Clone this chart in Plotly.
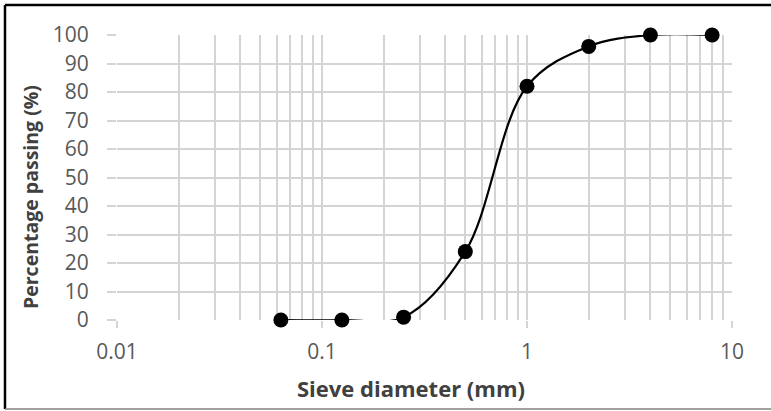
import plotly.graph_objects as go

sieve_mm = [0.063, 0.125, 0.25, 0.5, 1, 2, 4, 8]
passing_pct = [0, 0, 1, 24, 82, 96, 100, 100]
x_tick_vals = [0.01, 0.1, 1, 10]
x_tick_text = ["0.01", "0.1", "1", "10"]
y_tick_vals = list(range(0, 101, 10))
x_title = "Sieve diameter (mm)"
y_title = "Percentage passing (%)"

FONT = "Open Sans"
GRID = "#d4d4d4"
TICKC = "#595959"

fig = go.Figure()
fig.add_trace(go.Scatter(
    x=sieve_mm, y=passing_pct, mode="lines+markers",
    line=dict(color="black", width=2.2, shape="spline", smoothing=1),
    marker=dict(color="black", size=15),
    showlegend=False, cliponaxis=False,
))

fig.update_layout(
    width=771, height=411,
    margin=dict(l=117, r=39, t=35, b=91),
    paper_bgcolor="white", plot_bgcolor="white",
    font=dict(family=FONT, size=20, color=TICKC),
    xaxis=dict(
        type="log", range=[-2, 1],
        tickvals=x_tick_vals, ticktext=x_tick_text,
        ticks="outside", ticklen=7, tickcolor=GRID, tickwidth=1.5,
        showgrid=True, gridcolor=GRID, gridwidth=1.5,
        minor=dict(dtick="D1", showgrid=True, gridcolor=GRID, gridwidth=1.5, ticks=""),
        showline=False, zeroline=False,
        ticklabelstandoff=6,
        tickfont=dict(family=FONT, size=21, color=TICKC),
    ),
    yaxis=dict(
        range=[0, 100], tickvals=y_tick_vals,
        ticks="outside", ticklen=9, tickcolor=GRID, tickwidth=1.5,
        showgrid=True, gridcolor=GRID, gridwidth=1.5,
        showline=False, zeroline=False,
        ticklabelstandoff=14,
        tickfont=dict(family=FONT, size=21, color=TICKC),
    ),
    annotations=[
        dict(text="<b>" + x_title + "</b>", xref="paper", yref="paper",
             x=(411 - 117) / (732 - 117), y=-(388 - 320) / 285,
             xanchor="center", yanchor="middle", showarrow=False,
             font=dict(family=FONT, size=22, color="#404040")),
        dict(text="<b>" + y_title + "</b>", xref="paper", yref="paper",
             x=-(117 - 30) / 615, y=(320 - 197) / 285, textangle=-90,
             xanchor="center", yanchor="middle", showarrow=False,
             font=dict(family=FONT, size=19.5, color="#404040")),
    ],
    shapes=[
        dict(type="line", xref="paper", yref="paper",
             x0=-(117 - 5) / 615, x1=(772 - 117) / 615,
             y0=(320 - 5) / 285, y1=(320 - 5) / 285,
             line=dict(color="black", width=2.5)),
        dict(type="line", xref="paper", yref="paper",
             x0=-(117 - 5) / 615, x1=-(117 - 5) / 615,
             y0=(320 - 5) / 285, y1=-(409 - 320) / 285,
             line=dict(color="black", width=2.5)),
        dict(type="line", xref="paper", yref="paper",
             x0=-(117 - 5) / 615, x1=(772 - 117) / 615,
             y0=-(409 - 320) / 285, y1=-(409 - 320) / 285,
             line=dict(color="#808080", width=1.5)),
    ],
)

fig.write_html("out.html", config={"displayModeBar": False},
               post_script="document.body.style.margin='0';")
